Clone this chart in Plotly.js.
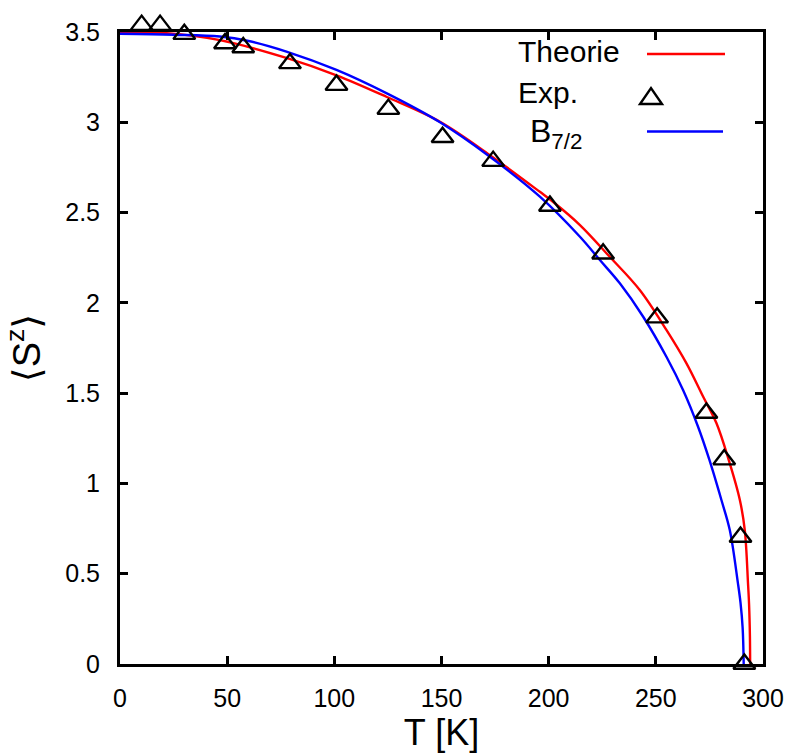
<!DOCTYPE html>
<html>
<head>
<meta charset="utf-8">
<script src="https://cdn.plot.ly/plotly-3.0.1.min.js"></script>
<style>html,body{margin:0;padding:0;background:#fff;}#chart{width:786px;height:753px;}</style>
</head>
<body>
<div id="chart"></div>
<script>
// Experimental points (Exp.)
const expT = [10.1, 18.7, 30, 49, 57.5, 79.3, 101, 125.2, 150.5, 174.1, 200.6, 225.4, 250.6, 273.6, 281.9, 289.5, 291.3];
const expS = [3.538, 3.538, 3.488, 3.436, 3.414, 3.326, 3.206, 3.073, 2.917, 2.785, 2.536, 2.272, 1.918, 1.39, 1.132, 0.703, 0.0];

// Theorie (red)
const theoT = [0, 20, 46.6, 78, 101, 124.5, 149.3, 172.6, 195.9, 202, 214.6, 228.5, 242.5, 255, 264.3, 272.1, 278.3, 284, 289.2, 291.5, 293, 293.5, 293.9, 294];
const theoS = [3.5, 3.495, 3.455, 3.355, 3.26, 3.14, 3.003, 2.818, 2.615, 2.56, 2.431, 2.255, 2.071, 1.849, 1.665, 1.48, 1.333, 1.13, 0.908, 0.742, 0.448, 0.33, 0.15, 0];

// B_7/2 Brillouin (blue)
const brilT = [0, 25, 46.6, 60, 78, 101, 124.5, 149.3, 172.6, 195.9, 214.6, 223.9, 233.2, 244.1, 255, 262.7, 269.7, 275, 280.6, 284.5, 288.3, 289.5, 290.5, 291];
const brilS = [3.49, 3.485, 3.475, 3.45, 3.39, 3.29, 3.16, 3.0, 2.809, 2.588, 2.366, 2.237, 2.108, 1.923, 1.70, 1.517, 1.314, 1.13, 0.908, 0.742, 0.448, 0.34, 0.2, 0];

const xTicks = [0, 50, 100, 150, 200, 250, 300];
const yTicks = [0, 0.5, 1, 1.5, 2, 2.5, 3, 3.5];
const yTickText = ['0', '0.5', '1', '1.5', '2', '2.5', '3', '3.5'];
const yMax = 3.5;

const W = 786, H = 753;
const FRAME = {l: 120, r: 763, t: 32, b: 664};   // frame box in pixels
const M = {l: FRAME.l, r: W - FRAME.r, t: 12, b: H - FRAME.b};
const PW = W - M.l - M.r, PH = H - M.t - M.b;
const yDomTop = (FRAME.b - FRAME.t) / PH;
function px(x) { return (x - M.l) / PW; }
function py(y) { return (H - M.b - y) / PH; }

const font = 'Liberation Sans, Arial, DejaVu Sans, sans-serif';

const traces = [
  {x: theoT, y: theoS, mode: 'lines', name: 'Theorie', line: {color: '#ff0000', width: 2.4, shape: 'spline', smoothing: 1}},
  {x: brilT, y: brilS, mode: 'lines', name: 'B<sub>7/2</sub>', line: {color: '#0000ff', width: 2.4, shape: 'spline', smoothing: 1}},
  {x: expT, y: expS, xaxis: 'x', yaxis: 'y2', mode: 'markers', name: 'Exp.', cliponaxis: false,
   marker: {symbol: 'triangle-up-open', size: 19, color: '#000', line: {color: '#000', width: 2.4}}}
];

const axisCommon = {
  showline: true, linecolor: '#000', linewidth: 3, mirror: 'ticks',
  ticks: 'inside', ticklen: 8, tickwidth: 3, tickcolor: '#000',
  showgrid: false, zeroline: false,
  tickfont: {family: font, size: 25, color: '#000'}
};

const layout = {
  width: W, height: H,
  margin: M,
  paper_bgcolor: '#fff', plot_bgcolor: 'rgba(0,0,0,0)',
  showlegend: false,
  font: {family: font, color: '#000'},
  xaxis: Object.assign({}, axisCommon, {
    range: [0, 300], tickvals: xTicks, ticklabelstandoff: 10, anchor: 'y',
    title: {text: 'T [K]', font: {family: font, size: 36, color: '#000'}, standoff: 6}
  }),
  yaxis: Object.assign({}, axisCommon, {
    range: [0, yMax], domain: [0, yDomTop], tickvals: yTicks, ticktext: yTickText, ticklabelstandoff: 12,
    title: {text: '⟨S<sup>z</sup>⟩', font: {family: font, size: 38, color: '#000'}, standoff: 14}
  }),
  yaxis2: {
    visible: false, anchor: 'x', domain: [0, 1], range: [0, yMax / yDomTop],
    showgrid: false, zeroline: false, showline: false
  },
  shapes: [
    {type: 'line', xref: 'paper', yref: 'paper', x0: px(647), x1: px(725), y0: py(54), y1: py(54), line: {color: '#ff0000', width: 2.4}},
    {type: 'path', xref: 'paper', yref: 'paper',
     path: 'M ' + px(640) + ' ' + py(104) + ' L ' + px(662) + ' ' + py(104) + ' L ' + px(651) + ' ' + py(88) + ' Z',
     line: {color: '#000', width: 2.4}},
    {type: 'line', xref: 'paper', yref: 'paper', x0: px(647), x1: px(723), y0: py(131.5), y1: py(131.5), line: {color: '#0000ff', width: 2.4}}
  ],
  annotations: [
    {xref: 'paper', yref: 'paper', x: px(516), y: py(52), xanchor: 'left', yanchor: 'middle', showarrow: false,
     text: 'Theorie', font: {family: font, size: 30, color: '#000'}},
    {xref: 'paper', yref: 'paper', x: px(516), y: py(93), xanchor: 'left', yanchor: 'middle', showarrow: false,
     text: 'Exp.', font: {family: font, size: 30, color: '#000'}},
    {xref: 'paper', yref: 'paper', x: px(528), y: py(133), xanchor: 'left', yanchor: 'middle', showarrow: false,
     text: 'B<sub>7/2</sub>', font: {family: font, size: 32, color: '#000'}}
  ]
};

Plotly.newPlot('chart', traces, layout, {displayModeBar: false, staticPlot: true});
</script>
</body>
</html>
